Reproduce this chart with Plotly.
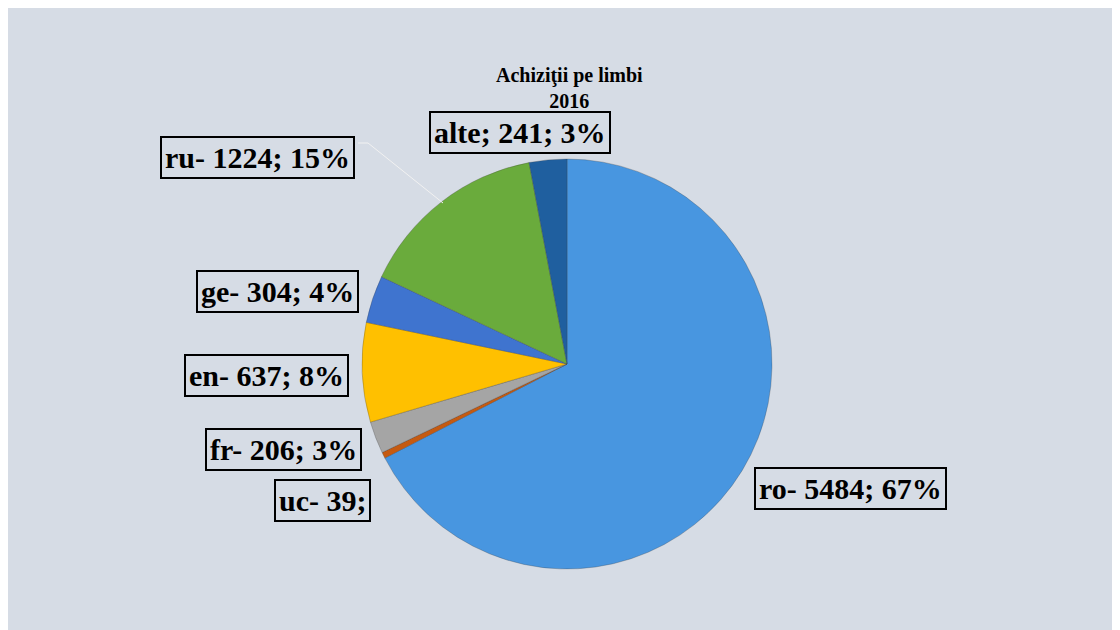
import plotly.graph_objects as go

W, H = 1120, 630
OFF = 8  # page body margin: screen pixel = figure pixel + 8

languages = ["ro", "uc", "fr", "en", "ge", "ru", "alte"]
counts = [5484, 39, 206, 637, 304, 1224, 241]
separators = ["-", "-", "-", "-", "-", "-", ";"]
show_percent = [True, False, True, True, True, True, True]
colors = ["#4896e0", "#c55a11", "#a5a5a5", "#ffc000", "#3f74cf", "#6aab3c", "#1f5f9f"]

# label box centres in screen pixels (x from left, y from top)
label_pos = [(850, 489), (322, 500), (283, 450), (266, 375), (277, 291), (257, 157), (520, 133)]

title_lines = ["Achiziţii pe limbi", "2016"]

total = sum(counts)
texts = []
for name, v, sep, sp in zip(languages, counts, separators, show_percent):
    t = f"{name}{sep} {v};"
    if sp:
        t += f" {round(v / total * 100)}%"
    texts.append(t)


def px(x):
    return (x - OFF) / W


def py(y):
    return 1 - (y - OFF) / H


cx, cy, r = 567, 364, 205

fig = go.Figure(go.Pie(
    labels=languages,
    values=counts,
    sort=False,
    direction="clockwise",
    rotation=0,
    textinfo="none",
    hoverinfo="label+value+percent",
    marker=dict(colors=colors, line=dict(color="rgba(60,60,60,0.35)", width=0.8)),
    domain=dict(x=[px(cx - r), px(cx + r)], y=[py(cy + r), py(cy - r)]),
    showlegend=False,
))

annotations = []
for t, (x, y) in zip(texts, label_pos):
    annotations.append(dict(
        x=px(x), y=py(y), xref="paper", yref="paper",
        text=f"<b>{t}</b>", showarrow=False,
        font=dict(family="Liberation Serif", size=30, color="black"),
        bordercolor="black", borderwidth=2, borderpad=3,
        xanchor="center", yanchor="middle",
    ))

annotations.append(dict(
    x=px(569), y=py(88), xref="paper", yref="paper",
    text="<br>".join(f"<b>{line}</b>" for line in title_lines), showarrow=False,
    font=dict(family="Liberation Serif", size=20, color="black"),
    xanchor="center", yanchor="middle",
))

shapes = [
    dict(type="line", xref="paper", yref="paper", x0=px(358), y0=py(143), x1=px(368), y1=py(143),
         line=dict(color="#f2f2f2", width=1)),
    dict(type="line", xref="paper", yref="paper", x0=px(368), y0=py(143), x1=px(443), y1=py(203),
         line=dict(color="#f2f2f2", width=1)),
]

fig.update_layout(
    width=W, height=H,
    margin=dict(l=0, r=0, t=0, b=0),
    paper_bgcolor="#d6dce5",
    plot_bgcolor="#d6dce5",
    annotations=annotations,
    shapes=shapes,
)

fig.write_html("out.html")
